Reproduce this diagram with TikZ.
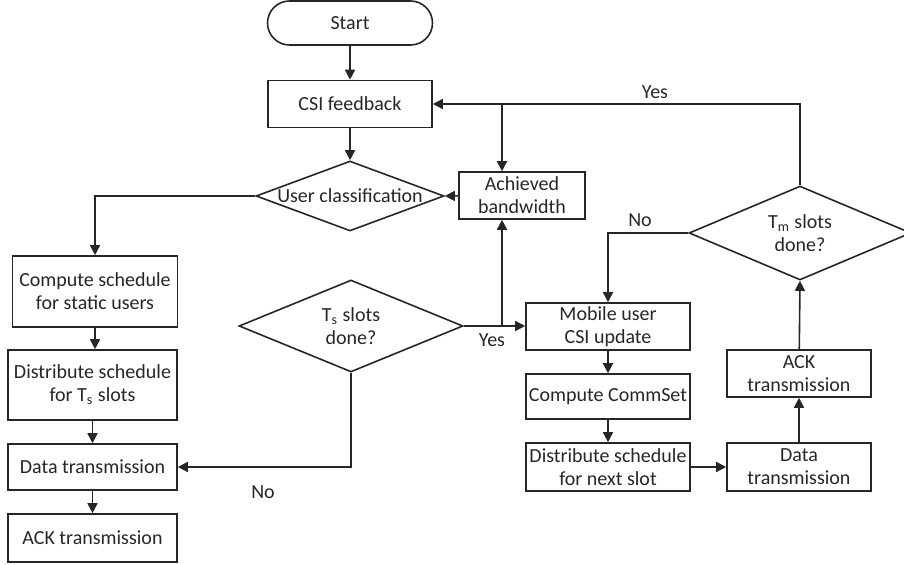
\documentclass[tikz,border=0pt]{standalone}
\usepackage{fontspec}
\setmainfont{Carlito}
\usetikzlibrary{arrows.meta,shapes.geometric}
\begin{document}
\begin{tikzpicture}[x=0.5pt,y=-0.5pt,
  every node/.style={font=\fontsize{10}{11.5}\selectfont,text=black!85},
  box/.style={draw=black!85,line width=0.8pt,rectangle,inner sep=0pt,align=center},
  term/.style={box,rounded corners=11pt},
  dia/.style={draw=black!85,line width=0.8pt,diamond,inner sep=0pt,shape aspect=1},
  arr/.style={draw=black!85,line width=0.8pt,-{Triangle[length=5pt,width=5pt]}},
  lbl/.style={inner sep=0pt}]
\useasboundingbox (0,0) rectangle (904,565);

% main column
\node[term,minimum width=82.5pt,minimum height=22pt] (start) at (350,23) {Start};
\node[box,minimum width=82pt,minimum height=23.5pt] (csi) at (350,104) {CSI feedback};
\node[dia,minimum width=94pt,minimum height=35pt,label={center:User classification}] (uc) at (350,196) {};
\node[box,minimum width=63pt,minimum height=23.5pt] (ab) at (522,195.5) {Achieved\\bandwidth};
\node[dia,minimum width=112pt,minimum height=46pt,label={[align=center]center:T\textsubscript{s} slots\\done?}] (ts) at (351,326) {};

% static users branch
\node[box,minimum width=82.5pt,minimum height=35.5pt] (cs) at (95,291.5) {Compute schedule\\for static users};
\node[box,minimum width=84.5pt,minimum height=35pt] (dsl) at (92.5,385) {Distribute schedule\\for T\textsubscript{s} slots};
\node[box,minimum width=84.5pt,minimum height=23pt] (dtl) at (92.5,467) {Data transmission};
\node[box,minimum width=84.5pt,minimum height=24pt] (ackl) at (92.5,538) {ACK transmission};

% mobile users branch
\node[dia,minimum width=111pt,minimum height=47pt,label={[align=center]center:T\textsubscript{m} slots\\done?}] (tm) at (800,233) {};
\node[box,minimum width=82pt,minimum height=23.5pt] (mu) at (608,326.5) {Mobile user\\CSI update};
\node[box,minimum width=82pt,minimum height=22.5pt] (cc) at (608,396.5) {Compute CommSet};
\node[box,minimum width=82pt,minimum height=24pt] (ds) at (608,467) {Distribute schedule\\for next slot};
\node[box,minimum width=72pt,minimum height=24pt] (dt2) at (799,467) {Data\\transmission};
\node[box,minimum width=72pt,minimum height=23.5pt] (ack2) at (799,373.5) {ACK\\transmission};

% junctions on the feedback lines
\coordinate (j1) at (502,326);
\coordinate (j2) at (502,103.5);

% connectors
\draw[arr] (start) -- (csi);
\draw[arr] (csi) -- (uc);
\draw[arr] (ab) -- (uc.east);
\draw[arr] (uc.west) -| (cs.north);
\draw[arr] (cs.south) -- (cs.south |- dsl.north);
\draw[arr] (dsl) -- (dtl);
\draw[arr] (dtl) -- (ackl);
\draw[arr] (ts.south) |- (dtl.east);
\draw[arr] (ts.east) -- (ts.east -| mu.west);
\draw[arr] (j1) -- (j1 |- ab.south);
\draw[arr] (tm.north) |- (csi.east);
\draw[arr] (j2) -- (j2 |- ab.north);
\draw[arr] (tm.west) -| (mu.north);
\draw[arr] (mu) -- (cc);
\draw[arr] (cc) -- (ds);
\draw[arr] (ds) -- (dt2);
\draw[arr] (dt2) -- (ack2);
\draw[arr] (ack2) -- (tm.south);

% branch labels
\node[lbl] (y1) at (655,92) {Yes};
\node[lbl] (n1) at (640,220) {No};
\node[lbl] (y2) at (492,340) {Yes};
\node[lbl] (n2) at (263,492) {No};
\end{tikzpicture}
\end{document}
